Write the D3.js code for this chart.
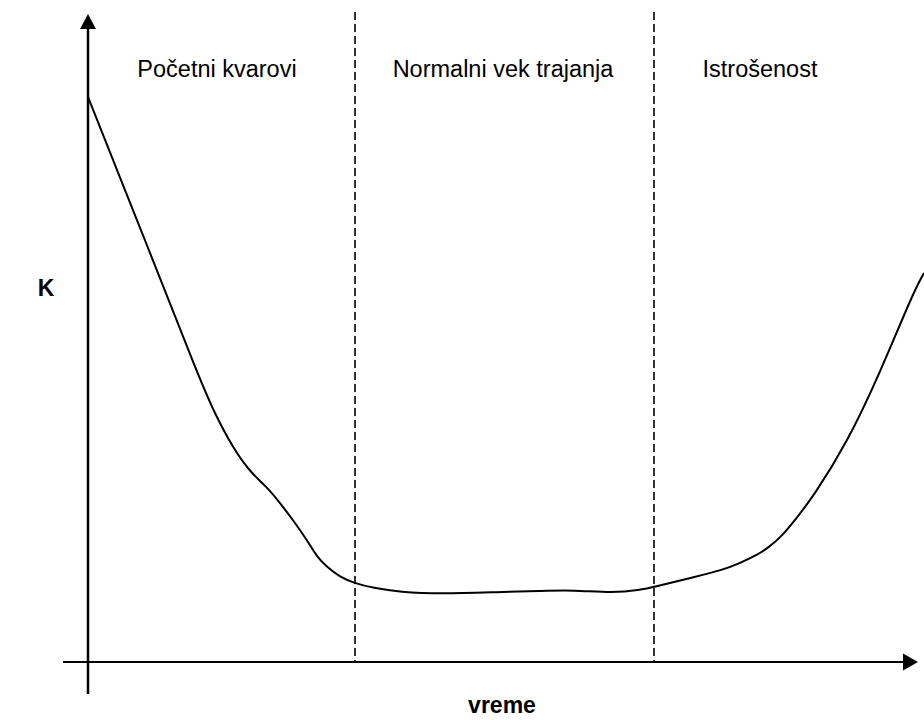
<!DOCTYPE html>
<html>
<head>
<meta charset="utf-8">
<script src="https://cdn.jsdelivr.net/npm/d3@7"></script>
<style>
  html, body { margin: 0; padding: 0; background: #fff; }
  svg { display: block; }
  text { font-family: "Liberation Sans", Arial, sans-serif; fill: #000; }
</style>
</head>
<body>
<svg id="chart" width="924" height="720"></svg>
<script>
// ---- data ----
const timeValues = [0, 57, 112, 127, 145, 162, 179, 192, 205, 219, 229, 239, 252, 266, 285, 312, 352, 412, 452, 485, 525, 552, 566, 602, 635, 652, 669, 680, 694, 707, 725, 759, 792, 825, 836];
const kValues    = [565, 422, 282, 248, 214, 190, 175, 159, 142, 122, 105, 95, 85, 79, 74, 70, 68, 70, 71, 72, 69, 72, 75, 84, 92, 99, 107, 114, 126, 142, 165, 219, 289, 369, 389];
const phaseBoundaries = [267, 566];
const phaseLabels = ["Početni kvarovi", "Normalni vek trajanja", "Istrošenost"];
const phaseLabelPositions = [129, 415, 672];
const xLabel = "vreme";
const yLabel = "K";

// ---- layout ----
const svg = d3.select("#chart");
const x = d3.scaleLinear().domain([0, 830]).range([88, 918]);
const y = d3.scaleLinear().domain([0, 650]).range([662, 12]);

// dashed phase boundaries
svg.selectAll("line.phase")
  .data(phaseBoundaries)
  .join("line")
  .attr("class", "phase")
  .attr("x1", d => x(d)).attr("x2", d => x(d))
  .attr("y1", y(650)).attr("y2", y(0))
  .attr("stroke", "#000")
  .attr("stroke-width", 1.6)
  .attr("stroke-dasharray", "8,4");

// x axis
svg.append("line")
  .attr("x1", x(-25)).attr("x2", x(815))
  .attr("y1", y(0)).attr("y2", y(0))
  .attr("stroke", "#000").attr("stroke-width", 2);
svg.append("path")
  .attr("d", `M${x(830)},${y(0)} L${x(815)},${y(0) - 8.5} L${x(815)},${y(0) + 8.5} Z`)
  .attr("fill", "#000");

// y axis
svg.append("line")
  .attr("x1", x(0)).attr("x2", x(0))
  .attr("y1", y(-32)).attr("y2", y(633))
  .attr("stroke", "#000").attr("stroke-width", 2.5);
svg.append("path")
  .attr("d", `M${x(0)},${y(648)} L${x(0) - 8},${y(633)} L${x(0) + 8},${y(633)} Z`)
  .attr("fill", "#000");

// curve
const line = d3.line()
  .x((d, i) => x(timeValues[i]))
  .y((d, i) => y(kValues[i]))
  .curve(d3.curveBasis);
svg.append("path")
  .attr("d", line(timeValues))
  .attr("fill", "none")
  .attr("stroke", "#000")
  .attr("stroke-width", 2);

// phase labels
svg.selectAll("text.phase")
  .data(phaseLabels)
  .join("text")
  .attr("class", "phase")
  .attr("x", (d, i) => x(phaseLabelPositions[i]))
  .attr("y", 77)
  .attr("text-anchor", "middle")
  .attr("font-size", 23.5)
  .text(d => d);

// axis labels
svg.append("text")
  .attr("x", 46).attr("y", 296)
  .attr("text-anchor", "middle")
  .attr("font-size", 23).attr("font-weight", "bold")
  .text(yLabel);
svg.append("text")
  .attr("x", 502).attr("y", 713)
  .attr("text-anchor", "middle")
  .attr("font-size", 23).attr("font-weight", "bold")
  .text(xLabel);
</script>
</body>
</html>
